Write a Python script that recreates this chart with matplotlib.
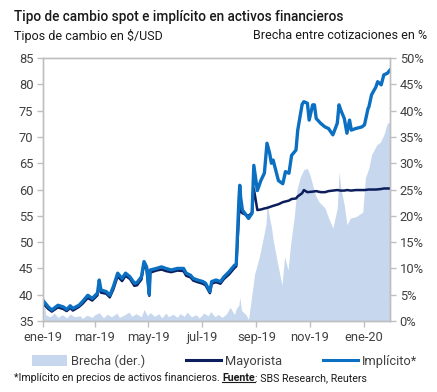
import matplotlib
matplotlib.use("Agg")
import matplotlib.pyplot as plt
from matplotlib.patches import Patch
from matplotlib.lines import Line2D
import pandas as pd

plt.rcParams["font.family"] = ["Roboto", "DejaVu Sans"]

# tipo de cambio implicito (CCL) en $/USD
impl_dates = ["2019-01-02", "2019-01-07", "2019-01-11", "2019-01-18", "2019-01-24", "2019-01-28",
              "2019-02-01", "2019-02-04", "2019-02-11", "2019-02-15", "2019-02-21", "2019-02-26",
              "2019-03-04", "2019-03-06", "2019-03-08", "2019-03-14", "2019-03-18", "2019-03-22",
              "2019-03-27", "2019-04-01", "2019-04-05", "2019-04-10", "2019-04-15", "2019-04-18",
              "2019-04-23", "2019-04-26", "2019-04-29", "2019-05-02", "2019-05-03", "2019-05-10",
              "2019-05-16", "2019-05-21", "2019-05-27", "2019-06-03", "2019-06-10", "2019-06-13",
              "2019-06-18", "2019-06-21", "2019-06-26", "2019-07-02", "2019-07-05", "2019-07-10",
              "2019-07-12", "2019-07-17", "2019-07-22", "2019-07-26", "2019-08-01", "2019-08-07",
              "2019-08-09", "2019-08-12", "2019-08-13", "2019-08-14", "2019-08-16", "2019-08-20",
              "2019-08-23", "2019-08-27", "2019-08-29", "2019-09-02", "2019-09-06", "2019-09-10",
              "2019-09-13", "2019-09-16", "2019-09-18", "2019-09-20", "2019-09-26", "2019-10-01",
              "2019-10-04", "2019-10-08", "2019-10-11", "2019-10-16", "2019-10-18", "2019-10-23",
              "2019-10-25", "2019-10-29", "2019-10-31", "2019-11-04", "2019-11-06", "2019-11-08",
              "2019-11-13", "2019-11-18", "2019-11-22", "2019-11-27", "2019-12-02", "2019-12-04",
              "2019-12-06", "2019-12-10", "2019-12-13", "2019-12-16", "2019-12-18", "2019-12-23",
              "2019-12-30", "2020-01-02", "2020-01-06", "2020-01-07", "2020-01-10", "2020-01-15",
              "2020-01-17", "2020-01-21", "2020-01-24", "2020-01-28", "2020-01-31"]
impl_vals = [38.7, 37.7, 37.1, 38.0, 37.7, 37.2,
             37.9, 37.4, 38.0, 38.7, 39.9, 39.3,
             40.3, 42.8, 40.9, 40.6, 39.9, 41.5,
             44.1, 43.1, 44.1, 43.4, 42.2, 42.3,
             43.4, 46.3, 45.3, 40.0, 44.7, 45.0,
             45.3, 45.0, 44.7, 45.0, 45.0, 44.1,
             43.7, 43.1, 42.8, 42.5, 42.2, 40.6,
             42.5, 42.8, 42.5, 43.4, 44.4, 45.6,
             45.8, 58.0, 60.8, 58.5, 56.1, 55.2,
             54.5, 55.5, 64.6, 59.8, 61.7, 63.1,
             68.8, 66.9, 65.0, 65.6, 61.7, 61.1,
             63.4, 63.1, 66.5, 67.5, 71.3, 76.2,
             76.7, 76.4, 73.2, 76.1, 76.1, 73.5,
             72.6, 71.9, 71.6, 70.4, 72.6, 76.1,
             75.1, 73.5, 70.7, 73.2, 71.3, 71.6,
             71.9, 72.3, 75.4, 75.7, 78.0, 79.5,
             80.5, 79.9, 81.8, 82.1, 82.7]

# tipo de cambio mayorista en $/USD
may_dates = ["2019-01-02", "2019-01-07", "2019-01-11", "2019-01-18", "2019-01-24", "2019-01-28",
             "2019-02-01", "2019-02-04", "2019-02-11", "2019-02-15", "2019-02-21", "2019-02-26",
             "2019-03-04", "2019-03-06", "2019-03-08", "2019-03-14", "2019-03-18", "2019-03-22",
             "2019-03-27", "2019-04-01", "2019-04-05", "2019-04-10", "2019-04-15", "2019-04-18",
             "2019-04-23", "2019-04-26", "2019-04-29", "2019-05-02", "2019-05-03", "2019-05-10",
             "2019-05-16", "2019-05-21", "2019-05-27", "2019-06-03", "2019-06-10", "2019-06-13",
             "2019-06-18", "2019-06-21", "2019-06-26", "2019-07-02", "2019-07-05", "2019-07-10",
             "2019-07-12", "2019-07-17", "2019-07-22", "2019-07-26", "2019-08-01", "2019-08-07",
             "2019-08-09", "2019-08-12", "2019-08-13", "2019-08-14", "2019-08-16", "2019-08-20",
             "2019-08-23", "2019-08-27", "2019-08-29", "2019-09-02", "2019-09-06", "2019-09-10",
             "2019-09-13", "2019-09-20", "2019-09-26", "2019-10-01", "2019-10-08", "2019-10-11",
             "2019-10-16", "2019-10-18", "2019-10-23", "2019-10-25", "2019-10-29", "2019-11-04",
             "2019-11-08", "2019-11-13", "2019-11-18", "2019-11-22", "2019-11-27", "2019-12-02",
             "2019-12-06", "2019-12-10", "2019-12-13", "2019-12-18", "2019-12-23", "2019-12-30",
             "2020-01-02", "2020-01-07", "2020-01-10", "2020-01-15", "2020-01-21", "2020-01-24",
             "2020-01-28", "2020-01-31"]
may_vals = [38.2, 37.3, 36.8, 37.6, 37.3, 36.9,
            37.5, 37.0, 37.7, 38.3, 39.4, 38.9,
            39.9, 42.2, 40.4, 40.2, 39.5, 41.0,
            43.5, 42.6, 43.6, 43.0, 41.7, 41.8,
            42.9, 45.7, 44.8, 39.8, 44.2, 44.6,
            44.8, 44.5, 44.3, 44.6, 44.5, 43.6,
            43.3, 42.7, 42.4, 42.1, 41.8, 40.3,
            42.1, 42.4, 42.1, 43.0, 43.9, 45.1,
            45.4, 55.0, 56.5, 56.0, 55.5, 55.2,
            55.0, 55.6, 60.2, 56.1, 56.2, 56.4,
            56.5, 56.9, 57.2, 57.6, 57.9, 58.2,
            58.3, 58.7, 59.3, 59.9, 59.5, 59.6,
            59.7, 59.5, 59.5, 59.7, 59.8, 59.9,
            59.8, 59.8, 59.9, 59.8, 59.9, 59.9,
            59.9, 60.0, 60.0, 60.0, 60.1, 60.2,
            60.2, 60.2]

# brecha entre cotizaciones en %
brecha_dates = ["2019-01-02", "2019-01-04", "2019-01-09", "2019-01-14", "2019-01-18", "2019-01-23",
                "2019-01-28", "2019-02-01", "2019-02-06", "2019-02-12", "2019-02-15", "2019-02-20",
                "2019-02-26", "2019-03-01", "2019-03-06", "2019-03-11", "2019-03-15", "2019-03-20",
                "2019-03-26", "2019-03-29", "2019-04-03", "2019-04-09", "2019-04-12", "2019-04-17",
                "2019-04-23", "2019-04-26", "2019-04-30", "2019-05-03", "2019-05-08", "2019-05-13",
                "2019-05-16", "2019-05-21", "2019-05-24", "2019-05-29", "2019-06-03", "2019-06-06",
                "2019-06-11", "2019-06-14", "2019-06-19", "2019-06-24", "2019-06-28", "2019-07-03",
                "2019-07-08", "2019-07-11", "2019-07-16", "2019-07-19", "2019-07-24", "2019-07-29",
                "2019-08-02", "2019-08-07", "2019-08-09", "2019-08-12", "2019-08-13", "2019-08-15",
                "2019-08-20", "2019-08-23", "2019-08-28", "2019-08-30", "2019-09-04", "2019-09-09",
                "2019-09-12", "2019-09-13", "2019-09-16", "2019-09-18", "2019-09-20", "2019-09-25",
                "2019-09-30", "2019-10-03", "2019-10-07", "2019-10-10", "2019-10-14", "2019-10-17",
                "2019-10-21", "2019-10-25", "2019-10-29", "2019-11-01", "2019-11-07", "2019-11-11",
                "2019-11-18", "2019-11-22", "2019-11-27", "2019-12-02", "2019-12-04", "2019-12-06",
                "2019-12-10", "2019-12-13", "2019-12-17", "2019-12-23", "2019-12-31", "2020-01-03",
                "2020-01-07", "2020-01-10", "2020-01-16", "2020-01-20", "2020-01-24", "2020-01-28",
                "2020-01-31"]
brecha_vals = [4.5, 1.2, 0.8, 1.5, 0.7, 1.2,
               0.6, 1.3, 0.8, 1.0, 0.5, 1.1,
               0.7, 1.2, 1.6, 0.6, 1.3, 0.8,
               1.5, 0.7, 1.1, 1.7, 0.9, 1.4,
               0.8, 2.2, 1.0, 1.6, 0.9, 1.4,
               0.6, 1.5, 0.8, 1.3, 0.7, 1.4,
               0.9, 1.7, 0.8, 1.2, 0.6, 1.5,
               1.0, 1.8, 0.8, 1.3, 0.7, 1.4,
               2.6, 1.2, 2.4, 3.0, 4.6, 2.0,
               1.2, 0.3, 6.5, 9.0, 12.0, 16.0,
               18.6, 22.5, 19.5, 17.9, 15.4, 11.0,
               6.8, 12.2, 9.7, 14.8, 19.8, 24.9,
               27.4, 28.8, 29.0, 27.7, 24.0, 22.7,
               21.5, 19.6, 17.7, 21.5, 28.3, 25.3,
               22.0, 18.3, 19.6, 19.8, 20.7, 27.2,
               29.1, 31.6, 33.5, 34.0, 35.4, 37.6,
               37.8]

xtick_dates = ["2019-01-01", "2019-03-01", "2019-05-01", "2019-07-01",
               "2019-09-01", "2019-11-01", "2020-01-01"]
xtick_labels = ["ene-19", "mar-19", "may-19", "jul-19", "sep-19", "nov-19", "ene-20"]
left_ticks = [35, 40, 45, 50, 55, 60, 65, 70, 75, 80, 85]
right_ticks = [0, 5, 10, 15, 20, 25, 30, 35, 40, 45, 50]

c_brecha = "#c6d7ee"
c_may = "#0c1e5b"
c_impl = "#0b6fc2"
c_frame = "#bfbfbf"
c_text = "#404040"

fig = plt.figure(figsize=(4.37, 3.92), dpi=100)
ax = fig.add_axes([0.0984, 0.181, 0.794, 0.671])
ax2 = ax.twinx()
ax.set_zorder(ax2.get_zorder() + 1)
ax.patch.set_visible(False)

ax2.fill_between(pd.to_datetime(brecha_dates), brecha_vals, 0, color=c_brecha, lw=0)
ax.plot(pd.to_datetime(may_dates), may_vals, color=c_may, lw=1.8)
ax.plot(pd.to_datetime(impl_dates), impl_vals, color=c_impl, lw=2.4)

ax.set_xlim(pd.Timestamp("2019-01-01"), pd.Timestamp("2020-01-31"))
ax.set_ylim(35, 85)
ax2.set_ylim(0, 50)
ax.set_yticks(left_ticks)
ax.set_yticklabels([str(v) for v in left_ticks])
ax2.set_yticks(right_ticks)
ax2.set_yticklabels([f"{v}%" for v in right_ticks])
ax.set_xticks(pd.to_datetime(xtick_dates))
ax.set_xticklabels(xtick_labels)

for a in (ax, ax2):
    for s in a.spines.values():
        s.set_color(c_frame)
        s.set_linewidth(1)
ax.tick_params(axis="both", length=4, width=1, color=c_frame, labelsize=9.3,
               labelcolor=c_text, pad=3)
ax2.tick_params(axis="y", length=4, width=1, color=c_frame, labelsize=9.3,
                labelcolor=c_text, pad=3)

fig.text(0.031, 0.957, "Tipo de cambio spot e implícito en activos financieros",
         fontsize=9.8, fontweight="medium", color="#1a1a1a", va="center")
fig.text(0.031, 0.909, "Tipos de cambio en $/USD", fontsize=9, color="#1a1a1a", va="center")
fig.text(0.978, 0.909, "Brecha entre cotizaciones en %", fontsize=9, color="#1a1a1a",
         va="center", ha="right")

handles = [Patch(facecolor=c_brecha, edgecolor="none"),
           Line2D([], [], color=c_may, lw=2.2),
           Line2D([], [], color=c_impl, lw=2.2)]
fig.legend(handles, ["Brecha (der.)", "Mayorista", "Implícito*"], loc="center",
           bbox_to_anchor=(0.514, 0.079), ncol=3, frameon=False, fontsize=9.3,
           handlelength=2.7, handleheight=0.9, handletextpad=0.3, columnspacing=3.2,
           labelcolor=c_text)

# nota al pie con "Fuente" en negrita y subrayada
fig.canvas.draw()
r = fig.canvas.get_renderer()
fy = 0.036
t1 = fig.text(0.032, fy, "*Implícito en precios de activos financieros. ", fontsize=7.7,
              color="#1a1a1a", va="center")
bb1 = t1.get_window_extent(r)
x2 = bb1.x1 / fig.bbox.width
t2 = fig.text(x2, fy, "Fuente", fontsize=7.7, fontweight="bold", color="#1a1a1a", va="center")
bb2 = t2.get_window_extent(r)
x3 = bb2.x1 / fig.bbox.width
fig.text(x3, fy, ": SBS Research, Reuters", fontsize=7.7, color="#1a1a1a", va="center")
uy = (bb2.y0 + 0.5) / fig.bbox.height
fig.add_artist(Line2D([x2, x3], [uy, uy], color="#1a1a1a", lw=0.8, transform=fig.transFigure))

fig.savefig("out.png", dpi=100)
